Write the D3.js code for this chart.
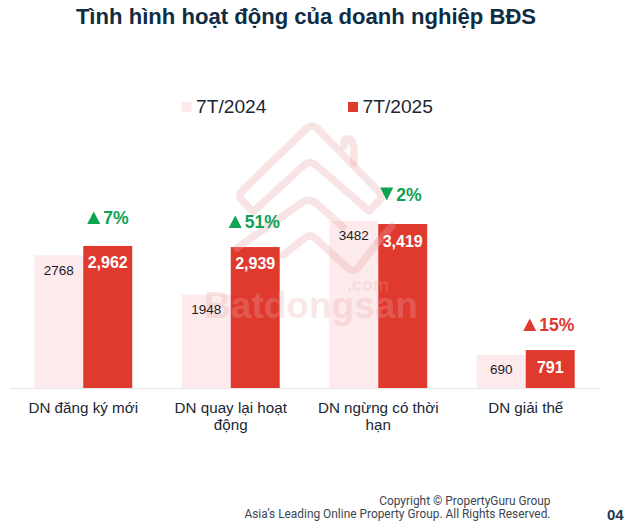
<!DOCTYPE html>
<html><head><meta charset="utf-8">
<script src="https://cdn.jsdelivr.net/npm/d3@7"></script>
<style>html,body{margin:0;padding:0;background:#fff}svg{display:block}text{font-family:"Liberation Sans",Arial,sans-serif}</style>
</head><body><svg id="c" width="630" height="531"></svg>
<script>
const categories = ["DN đăng ký mới","DN quay lại hoạt động","DN ngừng có thời hạn","DN giải thể"];
const categoryLines = [["DN đăng ký mới"],["DN quay lại hoạt","động"],["DN ngừng có thời","hạn"],["DN giải thể"]];
const series2024 = [2768,1948,3482,690];
const series2025 = [2962,2939,3419,791];
const labels2024 = ["2768","1948","3482","690"];
const labels2025 = ["2,962","2,939","3,419","791"];
const changes = ["7%","51%","2%","15%"];
const changeDir = ["up","up","down","up"];
const changeColor = ["#0ea253","#0ea253","#0ea253","#e0392f"];
const seriesNames = ["7T/2024","7T/2025"];
const seriesColors = ["#fdeaec","#e03a2f"];

const svg = d3.select("#c");
const baseY = 388;
const x = d3.scaleBand().domain(categories).range([9.5,599.5]).paddingInner(.336).paddingOuter(.168);
const y = d3.scaleLinear().domain([0,3482]).range([baseY,baseY-167]);
const bw = x.bandwidth()/2;

const defs = svg.append("defs");
defs.append("filter").attr("id","soft").append("feGaussianBlur").attr("stdDeviation",.7);

svg.append("text").attr("x",306).attr("y",24).attr("text-anchor","middle")
  .attr("font-size",22.1).attr("font-weight",700).attr("fill","#0f2c45")
  .text("Tình hình hoạt động của doanh nghiệp BĐS");

// bars
[series2024,series2025].forEach((s,k)=>{
  svg.append("g").selectAll("rect").data(s).join("rect")
    .attr("x",(d,i)=>x(categories[i])+k*bw).attr("width",bw)
    .attr("y",d=>y(d)).attr("height",d=>baseY-y(d)).attr("fill",seriesColors[k]);
});

// axis
const axis = svg.append("g").attr("transform",`translate(0,${baseY})`).call(d3.axisBottom(x).tickSize(0).tickFormat(""));
axis.select(".domain").attr("stroke","#e4e6ea").attr("stroke-width",1);

// watermark
const wm = svg.append("g").attr("filter","url(#soft)");
const wmLines = wm.append("g").attr("fill","none").attr("stroke","#e8a5a5").attr("stroke-opacity",.3).attr("stroke-width",7.5).attr("stroke-linejoin","round").attr("stroke-linecap","round");
wmLines.append("path").attr("d","M253 212 L241 199 Q238 195 242 191 L307 128 Q312 124 317 128 L379 192 Q383 197 379 201 L369 211 L316 165 Q310 160 304 165 Z");
wmLines.append("path").attr("d","M344 146 L344 141 Q346 137 351 140 Q354 143 354 150 L354 163");
wmLines.append("path").attr("d","M237 248 L303 202 Q310 198 316 203 L343 227");
wmLines.append("path").attr("d","M283 255 L305 238 Q310 234 315 238 L349 269 Q353 272 357 269 L378 242");
wmLines.append("path").attr("d","M378 242 L392 226");
wm.append("text").attr("x",311).attr("y",318).attr("text-anchor","middle").attr("font-size",37).attr("font-weight",700).attr("fill","#e8a5a5").attr("fill-opacity",.28).text("Batdongsan");
wm.append("text").attr("x",347).attr("y",291).attr("font-size",18).attr("font-weight",700).attr("fill","#e8a5a5").attr("fill-opacity",.22).text(".com");

// value labels
svg.append("g").selectAll("text").data(labels2024).join("text")
  .attr("x",(d,i)=>x(categories[i])+bw/2).attr("y",(d,i)=>[275,314,240,374][i])
  .attr("text-anchor","middle").attr("font-size",13.5).attr("fill","#1c1c1c").text(d=>d);
svg.append("g").selectAll("text").data(labels2025).join("text")
  .attr("x",(d,i)=>x(categories[i])+bw*1.5).attr("y",(d,i)=>[267.5,269,246.5,372.5][i])
  .attr("text-anchor","middle").attr("font-size",16).attr("font-weight",700).attr("fill","#fff").text(d=>d);

// change labels: triangle + percentage, placed relative to the red bar centre
const triOff = [-20.5,-26.5,-22.5,-27];
const changeBase = [224,228,200.5,331];
const changeG = svg.append("g").selectAll("g").data(changes).join("g")
  .attr("transform",(d,i)=>`translate(${x(categories[i])+bw*1.5+triOff[i]},${changeBase[i]})`);
changeG.append("path").attr("fill",(d,i)=>changeColor[i])
  .attr("d",(d,i)=>changeDir[i]==="up"?"M0 0 l13 0 l-6.5 -12.5 Z":"M0 -13 l13 0 l-6.5 13 Z");
changeG.append("text").attr("x",16).attr("font-size",17.6).attr("font-weight",700)
  .attr("fill",(d,i)=>changeColor[i]).text(d=>d);

// category labels
categoryLines.forEach((lines,i)=>{
  const t = svg.append("text").attr("text-anchor","middle").attr("font-size",15.2).attr("fill","#1b2733");
  lines.forEach((l,j)=>t.append("tspan").attr("x",x(categories[i])+bw).attr("y",412.5+j*17.8).text(l));
});

// legend
seriesNames.forEach((n,k)=>{
  const lx=[181.5,348][k];
  svg.append("rect").attr("x",lx).attr("y",102).attr("width",10).attr("height",10).attr("fill",seriesColors[k]);
  svg.append("text").attr("x",lx+14.5).attr("y",112.5).attr("font-size",19.2).attr("fill","#1b2733").text(n);
});

// footer
svg.append("text").attr("x",550.5).attr("y",504.5).attr("text-anchor","end").attr("font-size",11.9).style("font-family","Roboto").attr("fill","#3d4650").text("Copyright © PropertyGuru Group");
svg.append("text").attr("x",550.5).attr("y",518).attr("text-anchor","end").attr("font-size",11.9).style("font-family","Roboto").attr("fill","#3d4650").text("Asia’s Leading Online Property Group. All Rights Reserved.");
svg.append("text").attr("x",607).attr("y",519.5).attr("font-size",15).attr("font-weight",700).attr("fill","#1d3a52").text("04");
</script></body></html>
